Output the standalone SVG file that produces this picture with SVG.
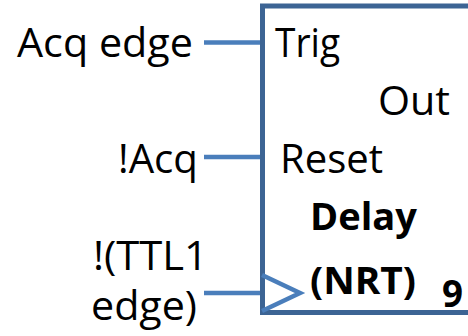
<svg xmlns="http://www.w3.org/2000/svg" width="468" height="336" viewBox="0 0 468 336">
<style>
.t{font-family:"Open Sans","Noto Sans",sans-serif;font-size:40px;fill:#000}
.b{font-weight:bold;font-size:37px}
.box{fill:#fff;stroke:#3c6494;stroke-width:5}
.w{stroke:#4a7ebb;stroke-width:4.5;fill:none}
</style>
<rect width="468" height="336" fill="#fff"/>
<g id="connectors">
<line class="w" x1="204" y1="42.5" x2="262" y2="42.5"/>
<line class="w" x1="204" y1="157" x2="262" y2="157"/>
<line class="w" x1="204" y1="293" x2="262" y2="293"/>
</g>
<g id="delay-block">
<rect class="box" x="262.5" y="6" width="230" height="306.5"/>
<polyline class="w" points="262,275 300,293 262,311"/>
<text class="t" x="275" y="57" textLength="65" lengthAdjust="spacingAndGlyphs">Trig</text>
<text class="t" x="378" y="115" textLength="72" lengthAdjust="spacingAndGlyphs">Out</text>
<text class="t" x="280" y="173" textLength="103" lengthAdjust="spacingAndGlyphs">Reset</text>
<text class="t b" x="310" y="230" textLength="107" lengthAdjust="spacingAndGlyphs">Delay</text>
<text class="t b" x="310" y="294" textLength="106" lengthAdjust="spacingAndGlyphs">(NRT)</text>
<text class="t b" x="442" y="307" textLength="21" lengthAdjust="spacingAndGlyphs">9</text>
</g>
<g id="acq-edge"><text class="t" x="17" y="56.5" textLength="176" lengthAdjust="spacingAndGlyphs">Acq edge</text></g>
<g id="not-acq"><text class="t" x="118" y="173" textLength="80" lengthAdjust="spacingAndGlyphs">!Acq</text></g>
<g id="ttl1-edge">
<text class="t" x="93" y="270" textLength="115" lengthAdjust="spacingAndGlyphs">!(TTL1</text>
<text class="t" x="91" y="320" textLength="106" lengthAdjust="spacingAndGlyphs">edge)</text>
</g>
</svg>
